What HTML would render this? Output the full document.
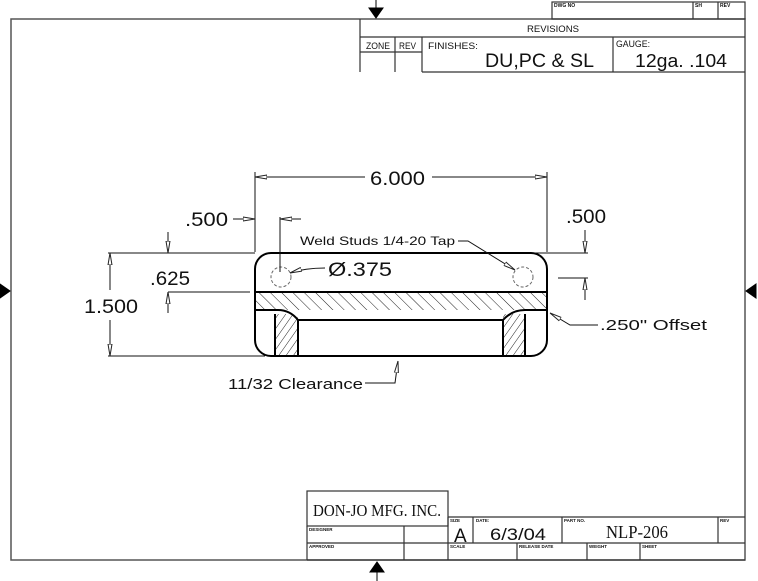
<!DOCTYPE html>
<html><head><meta charset="utf-8"><style>
html,body{margin:0;padding:0;background:#fff;width:758px;height:581px;overflow:hidden}
svg{display:block}
text{font-family:"Liberation Sans",sans-serif;fill:#111}
</style></head><body>
<svg width="758" height="581" viewBox="0 0 758 581" xmlns="http://www.w3.org/2000/svg">
<defs>
<pattern id="h1" patternUnits="userSpaceOnUse" width="8" height="8" patternTransform="rotate(-45)"><line x1="0" y1="0" x2="0" y2="8" stroke="#222" stroke-width="1"/></pattern>
<pattern id="h2" patternUnits="userSpaceOnUse" width="6" height="6" patternTransform="rotate(35)"><line x1="0" y1="0" x2="0" y2="6" stroke="#222" stroke-width="1"/></pattern>
<marker id="a" viewBox="0 0 12 6" refX="12" refY="3" markerWidth="12" markerHeight="6" markerUnits="userSpaceOnUse" orient="auto"><path d="M0,1 L12,3 L0,5 Z" fill="#fff" stroke="#222" stroke-width="1"/></marker>
</defs>
<g fill="none" stroke="#555" stroke-width="1.5">
<rect x="11" y="19" width="734" height="541"/>
</g>
<!-- edge arrows -->
<g fill="#000" stroke="#000">
<line x1="376" y1="0" x2="376" y2="10"/><path d="M369,8 L383,8 L376,18 Z"/>
<line x1="377" y1="570" x2="377" y2="581"/><path d="M370,572 L384,572 L377,562 Z"/>
<path d="M0,284 L10,291 L0,298 Z"/>
<path d="M756,284 L746,291 L756,298 Z"/>
</g>
<!-- revisions block -->
<g fill="none" stroke="#333" stroke-width="1.2">
<rect x="552" y="2" width="193" height="17"/>
<line x1="693" y1="2" x2="693" y2="19"/><line x1="718" y1="2" x2="718" y2="19"/>
<line x1="360" y1="19" x2="360" y2="72"/>
<line x1="360" y1="37" x2="745" y2="37"/>
<line x1="360" y1="52" x2="422" y2="52"/>
<line x1="395" y1="37" x2="395" y2="72"/>
<line x1="422" y1="37" x2="422" y2="72"/>
<line x1="613" y1="37" x2="613" y2="72"/>
<line x1="422" y1="72" x2="745" y2="72"/>
</g>
<g style="font-size:5px;font-weight:bold"><text x="554" y="7">DWG NO</text><text x="695" y="7">SH</text><text x="720" y="7">REV</text></g>
<text x="553" y="32" text-anchor="middle" style="font-size:9px" textLength="52" lengthAdjust="spacingAndGlyphs">REVISIONS</text>
<text x="366" y="49" style="font-size:9px" textLength="24" lengthAdjust="spacingAndGlyphs">ZONE</text>
<text x="399" y="49" style="font-size:9px" textLength="17" lengthAdjust="spacingAndGlyphs">REV</text>
<text x="428" y="49" style="font-size:9px" textLength="50" lengthAdjust="spacingAndGlyphs">FINISHES:</text>
<text x="616" y="47" style="font-size:9px" textLength="34" lengthAdjust="spacingAndGlyphs">GAUGE:</text>
<text x="485" y="67" style="font-size:19px" textLength="109" lengthAdjust="spacingAndGlyphs">DU,PC &amp; SL</text>
<text x="635" y="67" style="font-size:18px" textLength="92" lengthAdjust="spacingAndGlyphs">12ga. .104</text>
<!-- title block -->
<g fill="none" stroke="#333" stroke-width="1.2">
<rect x="307" y="491" width="141" height="35"/>
<line x1="307" y1="526" x2="307" y2="560"/>
<line x1="307" y1="543" x2="745" y2="543"/>
<line x1="307" y1="560" x2="745" y2="560"/>
<line x1="404" y1="526" x2="404" y2="560"/>
<line x1="448" y1="517" x2="745" y2="517"/>
<line x1="448" y1="517" x2="448" y2="560"/>
<line x1="473" y1="517" x2="473" y2="543"/>
<line x1="562" y1="517" x2="562" y2="543"/>
<line x1="718" y1="517" x2="718" y2="543"/>
<line x1="517" y1="543" x2="517" y2="560"/>
<line x1="587" y1="543" x2="587" y2="560"/>
<line x1="640" y1="543" x2="640" y2="560"/>
</g>
<text x="313" y="516" style="font-family:'Liberation Serif',serif;font-size:17px" textLength="128" lengthAdjust="spacingAndGlyphs">DON-JO MFG. INC.</text>
<g style="font-size:4.5px;font-weight:bold">
<text x="309" y="531">DESIGNER</text><text x="309" y="548">APPROVED</text>
<text x="450" y="522">SIZE</text><text x="476" y="522">DATE:</text><text x="564" y="522">PART NO.</text><text x="720" y="522">REV</text>
<text x="450" y="548">SCALE</text><text x="519" y="548">RELEASE DATE</text><text x="589" y="548">WEIGHT</text><text x="642" y="548">SHEET</text>
</g>
<text x="454" y="542" style="font-size:19px">A</text>
<text x="490" y="540" style="font-size:17px" textLength="56" lengthAdjust="spacingAndGlyphs">6/3/04</text>
<text x="606" y="538" style="font-family:'Liberation Serif',serif;font-size:18px" textLength="62" lengthAdjust="spacingAndGlyphs">NLP-206</text>
<!-- part -->
<rect x="255" y="292" width="292" height="18" fill="url(#h1)"/>
<rect x="275" y="314" width="23" height="42" fill="url(#h2)"/>
<rect x="503" y="314" width="22" height="42" fill="url(#h2)"/>
<g fill="none" stroke="#000" stroke-width="2">
<rect x="255" y="253" width="292" height="103" rx="16"/>
<line x1="255" y1="292" x2="547" y2="292"/>
<path d="M255,310 L278,310 Q290,310 298,320 L503,320 Q512,310 525,310 L547,310"/>
<line x1="275" y1="314" x2="275" y2="356"/>
<line x1="298" y1="320" x2="298" y2="356"/>
<line x1="503" y1="320" x2="503" y2="356"/>
<line x1="525" y1="314" x2="525" y2="356"/>
</g>
<g fill="none" stroke="#666" stroke-width="1" stroke-dasharray="3,2">
<circle cx="281" cy="277" r="10"/><circle cx="523" cy="277" r="10"/>
</g>
<!-- dimensions -->
<g fill="none" stroke="#111" stroke-width="1">
<line x1="255" y1="172" x2="255" y2="252"/>
<line x1="547" y1="172" x2="547" y2="252"/>
<line x1="365" y1="177" x2="255" y2="177" marker-end="url(#a)"/>
<line x1="432" y1="177" x2="547" y2="177" marker-end="url(#a)"/>
<line x1="233" y1="219" x2="255" y2="219" marker-end="url(#a)"/>
<line x1="280" y1="217" x2="280" y2="272"/>
<line x1="301" y1="219" x2="280" y2="219" marker-end="url(#a)"/>
<line x1="108" y1="253" x2="255" y2="253"/>
<line x1="108" y1="356" x2="265" y2="356"/>
<line x1="110" y1="290" x2="110" y2="253" marker-end="url(#a)"/>
<line x1="110" y1="320" x2="110" y2="356" marker-end="url(#a)"/>
<line x1="168" y1="232" x2="168" y2="253" marker-end="url(#a)"/>
<line x1="168" y1="292" x2="250" y2="292"/>
<line x1="168" y1="313" x2="168" y2="292" marker-end="url(#a)"/>
<line x1="535" y1="253" x2="588" y2="253"/>
<line x1="558" y1="278" x2="588" y2="278"/>
<line x1="585" y1="230" x2="585" y2="253" marker-end="url(#a)"/>
<line x1="585" y1="300" x2="585" y2="278" marker-end="url(#a)"/>
<path d="M458,241 L468,241 L515,270" marker-end="url(#a)"/>
<path d="M325,268 Q305,268 290,273" marker-end="url(#a)"/>
<path d="M598,325 L570,325 L550,313" marker-end="url(#a)"/>
<path d="M365,383 L395,383 L398,361" marker-end="url(#a)"/>
</g>
<g style="font-size:19px">
<text x="370" y="185" textLength="55" lengthAdjust="spacingAndGlyphs">6.000</text>
<text x="185" y="226" textLength="43" lengthAdjust="spacingAndGlyphs">.500</text>
<text x="566" y="223" textLength="40" lengthAdjust="spacingAndGlyphs">.500</text>
<text x="150" y="285" textLength="40" lengthAdjust="spacingAndGlyphs">.625</text>
<text x="84" y="313" textLength="54" lengthAdjust="spacingAndGlyphs">1.500</text>
<text x="328" y="276" textLength="64" lengthAdjust="spacingAndGlyphs">Ø.375</text>
</g>
<text x="300" y="245" style="font-size:12px" textLength="155" lengthAdjust="spacingAndGlyphs">Weld Studs 1/4-20 Tap</text>
<text x="600" y="330" style="font-size:15px" textLength="107" lengthAdjust="spacingAndGlyphs">.250" Offset</text>
<text x="228" y="389" style="font-size:15px" textLength="135" lengthAdjust="spacingAndGlyphs">11/32 Clearance</text>
</svg>
</body></html>
